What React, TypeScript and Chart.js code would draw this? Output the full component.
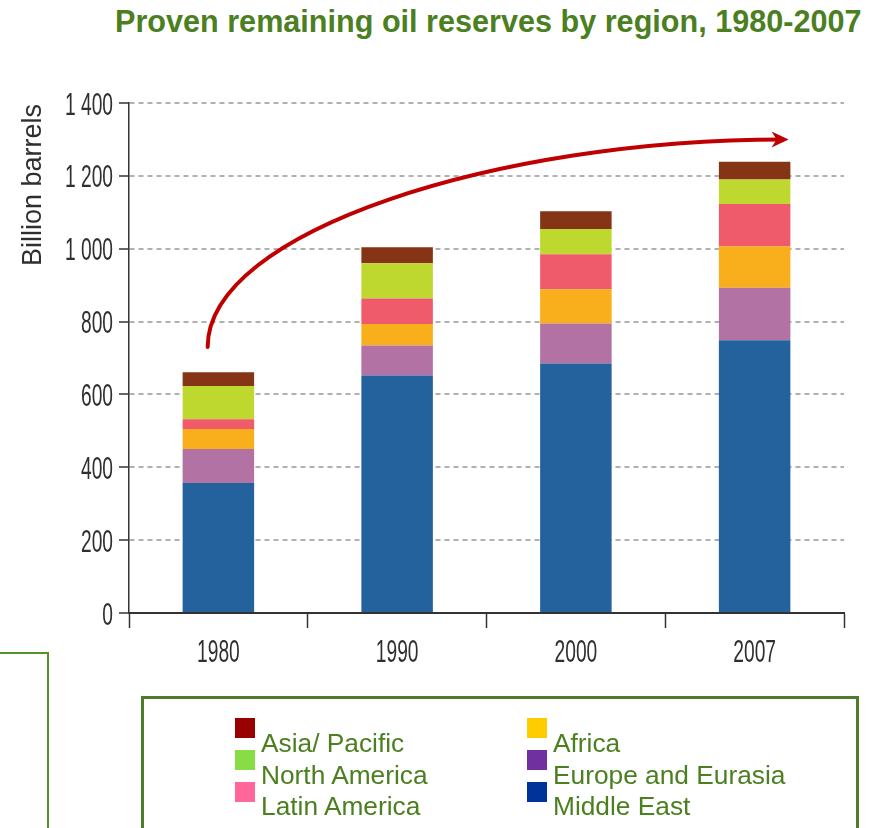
import React, { useEffect, useRef } from "react";
import { Chart, registerables } from "chart.js";

Chart.register(...registerables);

// ---- data ----
const years = ["1980", "1990", "2000", "2007"];
const middleEast = [357, 652, 685, 749];
const europeEurasia = [93, 82, 110, 144];
const africa = [55, 59, 94, 114];
const latinAmerica = [27, 70, 96, 116];
const northAmerica = [91, 97, 69, 67];
const asiaPacific = [38, 44, 49, 49];
const yTickValues = [0, 200, 400, 600, 800, 1000, 1200, 1400];

const seriesNames = ["Middle East", "Europe and Eurasia", "Africa", "Latin America", "North America", "Asia/ Pacific"];
const barColors = ["#24629e", "#b272a4", "#f9ae1b", "#ef5b6b", "#bed82f", "#853515"];

const legendLeft = ["Asia/ Pacific", "North America", "Latin America"];
const legendLeftColors = ["#990000", "#88dd44", "#ff6699"];
const legendRight = ["Africa", "Europe and Eurasia", "Middle East"];
const legendRightColors = ["#ffcc00", "#7030a0", "#003399"];

const titleText = "Proven remaining oil reserves by region, 1980-2007";
const yTitle = "Billion barrels";

const SANS = '"Liberation Sans", Arial, sans-serif';
const GREEN = "#4b7f1f";
const AXIS_TEXT = "#2f2f2f";

function fmt(v: number) {
  return v >= 1000 ? Math.floor(v / 1000) + " " + String(v % 1000).padStart(3, "0") : String(v);
}

// condensed axis text (the original uses a condensed face)
const condensedLabels = {
  id: "condensedLabels",
  afterDraw(chart: any) {
    const ctx = chart.ctx;
    const x = chart.scales.x;
    const y = chart.scales.y;
    const area = chart.chartArea;
    ctx.save();
    ctx.fillStyle = AXIS_TEXT;
    ctx.font = "32px " + SANS;
    ctx.textBaseline = "alphabetic";
    // y tick labels
    ctx.textAlign = "right";
    yTickValues.forEach((v) => {
      const py = y.getPixelForValue(v);
      ctx.save();
      ctx.translate(area.left - 16, py + 11.5);
      ctx.scale(0.6, 1);
      ctx.fillText(fmt(v), 0, 0);
      ctx.restore();
    });
    // x tick labels
    ctx.textAlign = "center";
    years.forEach((lab, i) => {
      const px = x.getPixelForValue(i);
      ctx.save();
      ctx.translate(px, area.bottom + 49);
      ctx.scale(0.6, 1);
      ctx.fillText(lab, 0, 0);
      ctx.restore();
    });
    // y axis title
    ctx.font = "27px " + SANS;
    ctx.textAlign = "right";
    ctx.save();
    ctx.translate(41, area.top + 1);
    ctx.rotate(-Math.PI / 2);
    ctx.fillText(yTitle, 0, 0);
    ctx.restore();
    ctx.restore();
  },
};

const arrowPlugin = {
  id: "growthArrow",
  afterDatasetsDraw(chart: any) {
    const x = chart.scales.x;
    const y = chart.scales.y;
    const ctx = chart.ctx;
    const step = x.getPixelForValue(1) - x.getPixelForValue(0);
    const sx = x.getPixelForValue(0) - step * 0.06;
    const sy = y.getPixelForValue(730);
    const c1x = sx;
    const c1y = y.getPixelForValue(1050);
    const c2x = x.getPixelForValue(1) + step * 0.57;
    const ey = y.getPixelForValue(1300);
    const tipX = x.getPixelForValue(3) + step * 0.19;
    const ex = tipX - 6;
    ctx.save();
    ctx.strokeStyle = "#c00000";
    ctx.fillStyle = "#c00000";
    ctx.lineWidth = 4;
    ctx.lineCap = "round";
    ctx.beginPath();
    ctx.moveTo(sx, sy);
    ctx.bezierCurveTo(c1x, c1y, c2x, ey, ex, ey);
    ctx.stroke();
    ctx.beginPath();
    ctx.moveTo(tipX, ey);
    ctx.lineTo(tipX - 17, ey - 8);
    ctx.lineTo(tipX - 12, ey);
    ctx.lineTo(tipX - 17, ey + 8);
    ctx.closePath();
    ctx.fill();
    ctx.restore();
  },
};

export default function App() {
  const ref = useRef<HTMLCanvasElement | null>(null);

  useEffect(() => {
    const canvas = ref.current;
    if (!canvas) return;
    const series = [middleEast, europeEurasia, africa, latinAmerica, northAmerica, asiaPacific];
    const chart = new Chart(canvas, {
      type: "bar",
      data: {
        labels: years,
        datasets: series.map((d, i) => ({
          label: seriesNames[i],
          data: d,
          backgroundColor: barColors[i],
          borderWidth: 0,
          barPercentage: 0.4,
          categoryPercentage: 1,
        })),
      },
      options: {
        responsive: false,
        animation: false,
        devicePixelRatio: 1,
        layout: { padding: { top: 103, right: 30, left: 0, bottom: 0 } },
        plugins: {
          legend: { display: false },
          tooltip: { enabled: false },
          title: { display: false },
        },
        scales: {
          x: {
            stacked: true,
            offset: true,
            grid: {
              offset: true,
              drawOnChartArea: false,
              drawTicks: true,
              tickLength: 15,
              tickColor: "#333",
              tickWidth: 1.5,
            },
            border: { display: true, color: "#333", width: 2 },
            ticks: { display: false },
            afterFit(scale: any) {
              scale.height = 87;
            },
          },
          y: {
            stacked: true,
            min: 0,
            max: 1400,
            afterBuildTicks(scale: any) {
              scale.ticks = yTickValues.map((v) => ({ value: v }));
            },
            grid: {
              color: "#b0b0b0",
              lineWidth: 2,
              drawTicks: true,
              tickLength: 10,
              tickColor: "#333",
              tickWidth: 1.5,
              tickBorderDash: [],
            },
            border: { display: true, color: "#333", width: 1.5, dash: [5, 4] },
            ticks: { display: false },
            afterFit(scale: any) {
              scale.width = 129;
            },
          },
        },
      },
      plugins: [arrowPlugin, condensedLabels],
    } as any);
    return () => chart.destroy();
  }, []);

  return (
    <div
      style={{
        position: "absolute",
        left: 0,
        top: 0,
        width: 874,
        height: 828,
        overflow: "hidden",
        background: "#fff",
      }}
    >
      <div
        style={{
          position: "absolute",
          left: 115,
          top: 4,
          fontFamily: SANS,
          fontWeight: "bold",
          fontSize: 30.6,
          color: GREEN,
          whiteSpace: "nowrap",
        }}
      >
        {titleText}
      </div>
      <canvas
        ref={ref}
        width={874}
        height={700}
        style={{ position: "absolute", left: 0, top: 0, width: 874, height: 700 }}
      />
      <div
        style={{
          position: "absolute",
          left: -10,
          top: 652,
          width: 57,
          height: 220,
          borderTop: "2px solid #55932a",
          borderRight: "2px solid #55932a",
        }}
      />
      <div
        style={{
          position: "absolute",
          left: 141,
          top: 696,
          width: 712,
          height: 200,
          border: "3px solid #4e7d2a",
        }}
      />
      {legendLeft.map((name, i) => (
        <React.Fragment key={"l" + i}>
          <div
            style={{
              position: "absolute",
              left: 235,
              top: 718 + 32 * i,
              width: 20,
              height: 20,
              background: legendLeftColors[i],
            }}
          />
          <div
            style={{
              position: "absolute",
              left: 261,
              top: 728 + 31.5 * i,
              fontFamily: SANS,
              fontSize: 26.3,
              color: GREEN,
              whiteSpace: "nowrap",
            }}
          >
            {name}
          </div>
        </React.Fragment>
      ))}
      {legendRight.map((name, i) => (
        <React.Fragment key={"r" + i}>
          <div
            style={{
              position: "absolute",
              left: 527,
              top: 718 + 32 * i,
              width: 20,
              height: 20,
              background: legendRightColors[i],
            }}
          />
          <div
            style={{
              position: "absolute",
              left: 553,
              top: 728 + 31.5 * i,
              fontFamily: SANS,
              fontSize: 26.3,
              color: GREEN,
              whiteSpace: "nowrap",
            }}
          >
            {name}
          </div>
        </React.Fragment>
      ))}
    </div>
  );
}
